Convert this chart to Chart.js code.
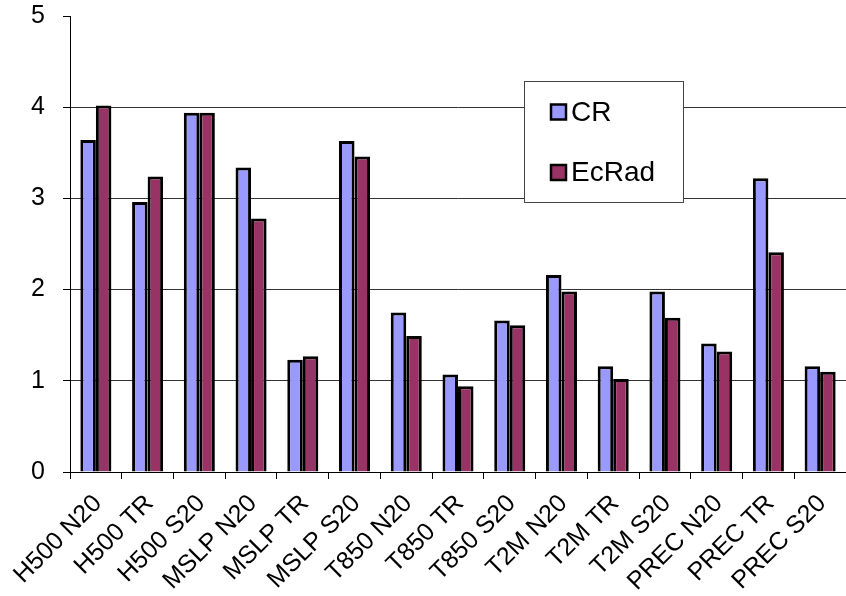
<!DOCTYPE html>
<html lang="en">
  <head>
    <meta charset="UTF-8" />
    <title>CR vs EcRad</title>
    <script src="https://cdn.jsdelivr.net/npm/chart.js"></script>
    <style>
      html, body {
        margin: 0;
        padding: 0;
        background-color: #fff;
      }
      .chart-box {
        position: relative;
        width: 846px;
        height: 596px;
      }
    </style>
  </head>
  <body>
    <div class="chart-box">
      <canvas id="scoreChart"></canvas>
    </div>

    <script>
      const categories = [
        "H500 N20", "H500 TR", "H500 S20",
        "MSLP N20", "MSLP TR", "MSLP S20",
        "T850 N20", "T850 TR", "T850 S20",
        "T2M N20", "T2M TR", "T2M S20",
        "PREC N20", "PREC TR", "PREC S20",
      ];
      const crValues = [3.64, 2.96, 3.94, 3.34, 1.23, 3.63, 1.75, 1.07, 1.66, 2.16, 1.16, 1.98, 1.41, 3.22, 1.16];
      const ecradValues = [4.02, 3.24, 3.94, 2.78, 1.27, 3.46, 1.49, 0.94, 1.61, 1.98, 1.02, 1.69, 1.32, 2.41, 1.10];
      const yTicks = [0, 1, 2, 3, 4, 5];

      // legend box drawn inside the plot, like the original
      const boxLegend = {
        id: "boxLegend",
        afterDraw(chart) {
          const ctx = chart.ctx;
          ctx.save();
          ctx.fillStyle = "#fff";
          ctx.fillRect(524, 81, 160, 122);
          ctx.strokeStyle = "#444";
          ctx.lineWidth = 1;
          ctx.strokeRect(524.5, 81.5, 159, 121);
          ctx.font = "28px Arial, 'Liberation Sans', sans-serif";
          ctx.textBaseline = "middle";
          chart.data.datasets.forEach(function (ds, i) {
            const y = 112 + i * 60.5;
            ctx.fillStyle = ds.backgroundColor;
            ctx.fillRect(551, y - 7.5, 15, 15);
            ctx.strokeStyle = "#000";
            ctx.lineWidth = 2.5;
            ctx.strokeRect(551, y - 7.5, 15, 15);
            ctx.fillStyle = "#000";
            ctx.fillText(ds.label, 571, y + 1);
          });
          ctx.restore();
        },
      };

      new Chart(document.getElementById("scoreChart"), {
        type: "bar",
        data: {
          labels: categories,
          datasets: [
            {
              label: "CR",
              data: crValues,
              backgroundColor: "#9999ff",
              borderColor: "#000",
              borderWidth: 3,
              borderSkipped: "bottom",
              categoryPercentage: 0.6,
              barPercentage: 1.0,
            },
            {
              label: "EcRad",
              data: ecradValues,
              backgroundColor: "#993366",
              borderColor: "#000",
              borderWidth: 3,
              borderSkipped: "bottom",
              categoryPercentage: 0.6,
              barPercentage: 1.0,
            },
          ],
        },
        options: {
          responsive: true,
          maintainAspectRatio: false,
          animation: false,
          layout: { padding: { top: 16, right: 0, left: 0, bottom: 0 } },
          plugins: {
            legend: { display: false },
            tooltip: { enabled: false },
          },
          scales: {
            x: {
              afterFit(scale) {
                scale.height = 124;
                scale.paddingLeft = 0;
                scale.paddingRight = 0;
              },
              grid: {
                offset: true,
                drawOnChartArea: false,
                color: "#000",
                tickLength: 7,
              },
              border: { color: "#000", width: 1 },
              ticks: {
                color: "#000",
                font: { family: "Arial, 'Liberation Sans', sans-serif", size: 25 },
                minRotation: 45,
                maxRotation: 45,
                padding: 10,
                labelOffset: 2,
                autoSkip: false,
              },
            },
            y: {
              min: 0,
              max: 5,
              afterFit(scale) {
                scale.width = 70;
                scale.paddingTop = 0;
                scale.paddingBottom = 0;
              },
              afterBuildTicks(scale) {
                scale.ticks = yTicks.map(function (v) { return { value: v }; });
              },
              grid: {
                color: function (c) {
                  return c.tick && c.tick.value === 5 ? "rgba(0,0,0,0)" : "#333";
                },
                tickColor: "#000",
                tickLength: 7,
              },
              border: { color: "#000", width: 1 },
              ticks: {
                color: "#000",
                font: { family: "Arial, 'Liberation Sans', sans-serif", size: 25 },
                padding: 18,
              },
            },
          },
        },
        plugins: [boxLegend],
      });
    </script>
  </body>
</html>
